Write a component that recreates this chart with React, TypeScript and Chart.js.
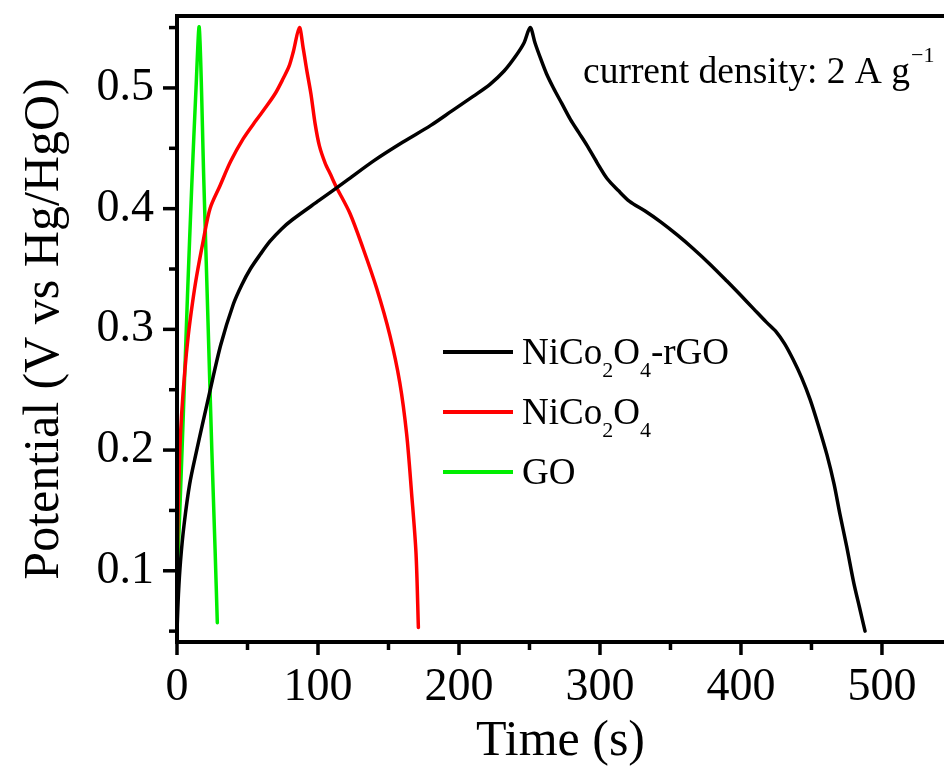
import React, { useEffect, useRef } from "react";
import { Chart, registerables } from "chart.js";

Chart.register(...registerables);

// ---- axis ranges & ticks ----
const X_MIN = 0;
const X_MAX = 544;
const Y_MIN = 0.041;
const Y_MAX = 0.5596;
const X_MAJOR = [0, 100, 200, 300, 400, 500];
const X_MINOR = [50, 150, 250, 350, 450];
const Y_MAJOR = [0.1, 0.2, 0.3, 0.4, 0.5];
const Y_MINOR = [0.05, 0.15, 0.25, 0.35, 0.45, 0.55];

const X_TITLE = "Time (s)";
const Y_TITLE = "Potential (V vs Hg/HgO)";
const NOTE_MAIN = "current density: 2 A g";
const NOTE_SUP = "\u22121";

// ---- series ----
const seriesNames = ["NiCo\u2082O\u2084-rGO", "NiCo\u2082O\u2084", "GO"];
const seriesColors = ["#000000", "#ff0000", "#00ee00"];
// legend label parts: [text, isSubscript]
const legendParts: [string, boolean][][] = [
  [["NiCo", false], ["2", true], ["O", false], ["4", true], ["-rGO", false]],
  [["NiCo", false], ["2", true], ["O", false], ["4", true]],
  [["GO", false]],
];

const rgoTime = [
  0, 1, 2.5, 5, 9, 14, 18, 23, 31, 40, 46, 52, 59, 66, 74, 82, 101, 120, 140,
  160, 180, 195, 210, 222, 232, 240, 246, 250.5, 254, 258, 262, 267, 273, 279,
  285, 291, 298, 305, 313, 321, 332, 343, 355, 366, 378, 390, 400, 409, 418,
  425, 431, 437, 443, 449, 455, 461, 466, 470, 475, 480, 484, 488,
];
const rgoPotential = [
  0.05, 0.08, 0.108, 0.138, 0.172, 0.2, 0.221, 0.247, 0.287, 0.321, 0.337,
  0.35, 0.362, 0.373, 0.383, 0.391, 0.407, 0.423, 0.44, 0.455, 0.469, 0.481,
  0.493, 0.503, 0.514, 0.526, 0.537, 0.55, 0.537, 0.524, 0.512, 0.5, 0.487,
  0.474, 0.463, 0.452, 0.438, 0.425, 0.415, 0.406, 0.398, 0.389, 0.378, 0.367,
  0.354, 0.34, 0.328, 0.317, 0.306, 0.298, 0.288, 0.275, 0.26, 0.242, 0.22,
  0.196, 0.172, 0.148, 0.12, 0.09, 0.07, 0.05,
];

const ncoTime = [
  0, 0.8, 2, 3.3, 5.5, 8, 11, 13.9, 18.7, 23.4, 30.5, 38, 47, 56, 63.6, 70,
  75.4, 79.5, 82.5, 86.8, 89.5, 92, 95, 98, 101, 105, 109, 113, 122.7, 132,
  141.6, 151, 158, 162.9, 166.4, 169.5, 171.2,
];
const ncoPotential = [
  0.1, 0.15, 0.2, 0.23, 0.265, 0.295, 0.322, 0.344, 0.374, 0.4, 0.419, 0.439,
  0.458, 0.473, 0.485, 0.496, 0.508, 0.518, 0.53, 0.55, 0.533, 0.515, 0.495,
  0.47, 0.452, 0.438, 0.428, 0.418, 0.396, 0.367, 0.334, 0.295, 0.256, 0.213,
  0.164, 0.115, 0.053,
];

const goTime = [0, 2, 4.5, 7.5, 10.5, 13.5, 15.8, 19, 22, 24.7, 27, 28.6];
const goPotential = [
  0.093, 0.15, 0.23, 0.33, 0.42, 0.5, 0.55, 0.424, 0.306, 0.2, 0.118, 0.057,
];

const seriesTimes = [rgoTime, ncoTime, goTime];
const seriesValues = [rgoPotential, ncoPotential, goPotential];

const FONT = '"Liberation Serif", "Times New Roman", serif';

const framePlugin = {
  id: "frame",
  afterDraw(chart: any) {
    const { ctx, chartArea: a, scales } = chart;
    const xs = scales.x;
    const ys = scales.y;
    ctx.save();
    ctx.strokeStyle = "#000";
    ctx.lineWidth = 4;
    ctx.lineCap = "butt";
    ctx.beginPath();
    ctx.moveTo(a.right + 4, a.top);
    ctx.lineTo(a.left, a.top);
    ctx.lineTo(a.left, a.bottom);
    ctx.lineTo(a.right + 4, a.bottom);
    ctx.stroke();
    ctx.lineWidth = 3.5;
    const tick = (v: number, len: number, horiz: boolean) => {
      ctx.beginPath();
      if (horiz) {
        const px = xs.getPixelForValue(v);
        ctx.moveTo(px, a.bottom);
        ctx.lineTo(px, a.bottom + len);
      } else {
        const py = ys.getPixelForValue(v);
        ctx.moveTo(a.left, py);
        ctx.lineTo(a.left - len, py);
      }
      ctx.stroke();
    };
    X_MAJOR.forEach((v) => tick(v, 13, true));
    X_MINOR.forEach((v) => tick(v, 8, true));
    Y_MAJOR.forEach((v) => tick(v, 14, false));
    Y_MINOR.forEach((v) => tick(v, 8, false));

    // legend
    const lx0 = 443, lx1 = 513, tx = 522, rowY0 = 352, rowGap = 60;
    legendParts.forEach((parts, i) => {
      const yRow = rowY0 + i * rowGap;
      ctx.strokeStyle = seriesColors[i];
      ctx.lineWidth = 4;
      ctx.beginPath();
      ctx.moveTo(lx0, yRow);
      ctx.lineTo(lx1, yRow);
      ctx.stroke();
      let x = tx;
      ctx.fillStyle = "#000";
      ctx.textBaseline = "alphabetic";
      ctx.textAlign = "left";
      parts.forEach(([t, sub]) => {
        ctx.font = sub ? `22px ${FONT}` : `37px ${FONT}`;
        ctx.fillText(t, x, yRow + 12 + (sub ? 13 : 0));
        x += ctx.measureText(t).width;
      });
    });

    // annotation
    ctx.fillStyle = "#000";
    ctx.textAlign = "left";
    ctx.textBaseline = "alphabetic";
    ctx.font = `37.5px ${FONT}`;
    ctx.fillText(NOTE_MAIN, 583, 83);
    const w = ctx.measureText(NOTE_MAIN).width;
    ctx.font = `22px ${FONT}`;
    ctx.fillText(NOTE_SUP, 583 + w + 1, 62);
    ctx.restore();
  },
};

export default function App() {
  const ref = useRef<HTMLCanvasElement | null>(null);
  useEffect(() => {
    document.body.style.margin = "0";
    const canvas = ref.current;
    if (!canvas) return;
    const chart = new Chart(canvas, {
      type: "line",
      data: {
        datasets: seriesNames.map((name, i) => ({
          label: name,
          data: seriesTimes[i].map((t, j) => ({ x: t, y: seriesValues[i][j] })),
          borderColor: seriesColors[i],
          backgroundColor: seriesColors[i],
          borderWidth: 3.5,
          pointRadius: 0,
          tension: 0.3,
          borderJoinStyle: "round" as const,
          borderCapStyle: "round" as const,
          fill: false,
        })),
      },
      options: {
        animation: false,
        responsive: false,
        maintainAspectRatio: false,
        layout: { padding: { top: 16, left: 0, right: 0, bottom: 0 } },
        plugins: {
          legend: { display: false },
          tooltip: { enabled: false },
        },
        scales: {
          x: {
            type: "linear",
            min: X_MIN,
            max: X_MAX,
            grid: { display: false, drawTicks: false },
            border: { display: false },
            ticks: {
              stepSize: 100,
              includeBounds: false,
              padding: 18,
              color: "#000",
              font: { family: FONT, size: 46 },
              maxRotation: 0,
              callback: (v: any) => String(v),
            },
            title: {
              display: true,
              text: X_TITLE,
              color: "#000",
              font: { family: FONT, size: 50 },
              padding: { top: 0, bottom: 1 },
            },
            afterFit: (s: any) => {
              s.height = 131;
              s.paddingLeft = 0;
              s.paddingRight = 0;
            },
          },
          y: {
            type: "linear",
            min: Y_MIN,
            max: Y_MAX,
            grid: { display: false, drawTicks: false },
            border: { display: false },
            ticks: {
              stepSize: 0.1,
              includeBounds: false,
              padding: 23,
              color: "#000",
              font: { family: FONT, size: 46 },
              callback: (v: any) => Number(v).toFixed(1),
            },
            title: {
              display: true,
              text: Y_TITLE,
              color: "#000",
              font: { family: FONT, size: 50 },
              padding: { top: 15, bottom: 0 },
            },
            afterFit: (s: any) => {
              s.width = 177;
              s.paddingTop = 0;
              s.paddingBottom = 0;
            },
          },
        },
      },
      plugins: [framePlugin],
    });
    return () => chart.destroy();
  }, []);
  return (
    <div style={{ width: 944, height: 773, overflow: "hidden" }}>
      <canvas ref={ref} width={944} height={773} style={{ display: "block" }} />
    </div>
  );
}
